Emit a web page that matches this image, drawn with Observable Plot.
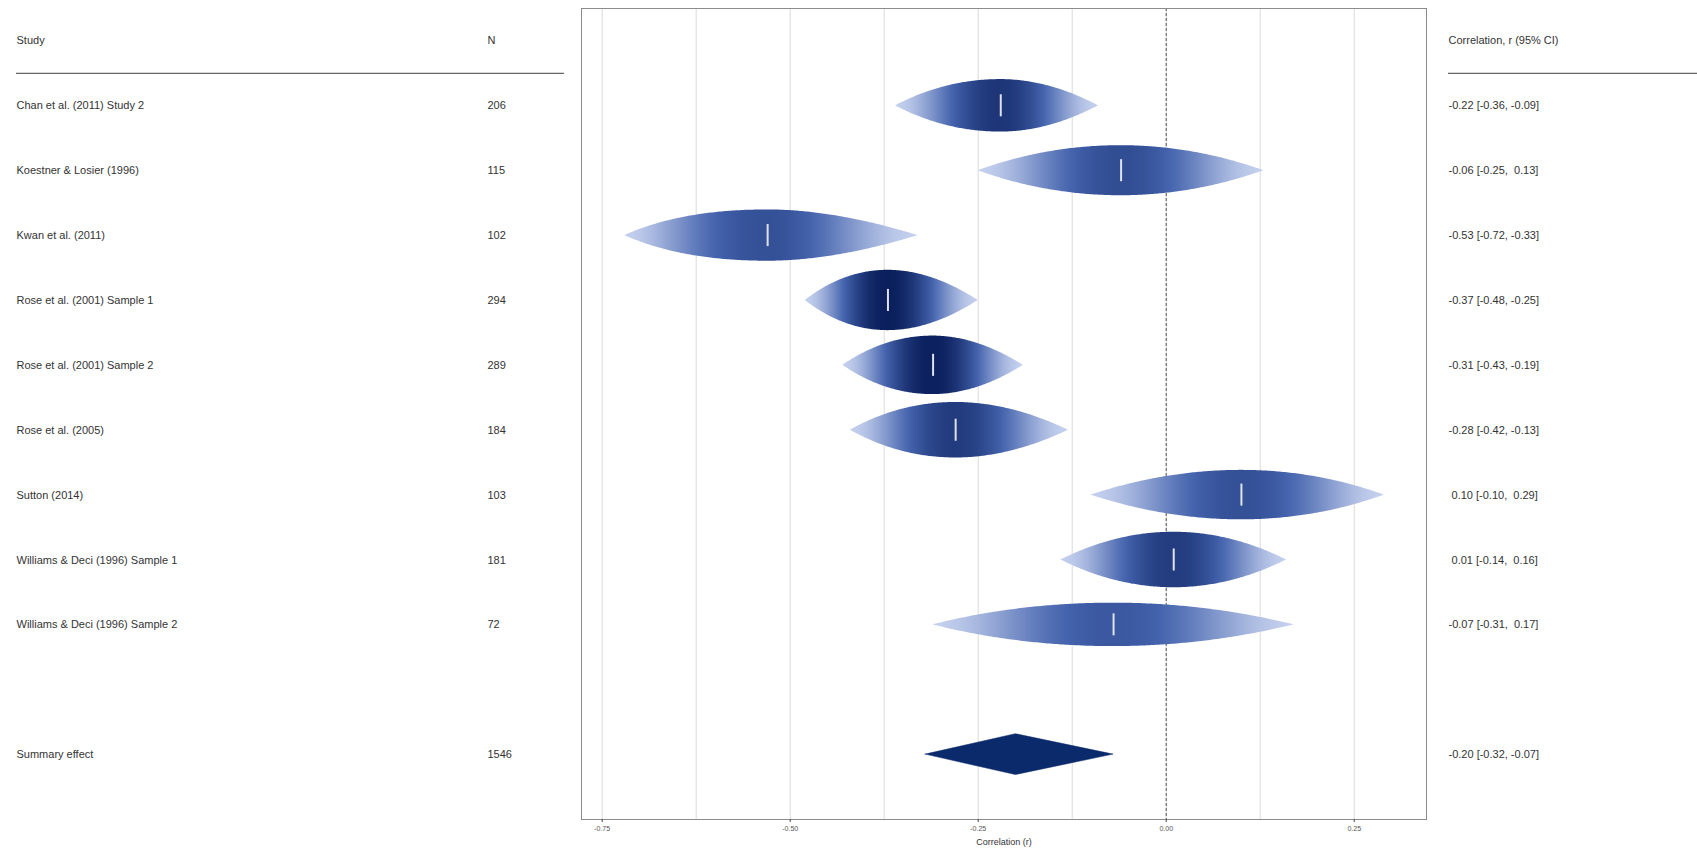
<!DOCTYPE html>
<html>
<head>
<meta charset="utf-8">
<script src="https://cdn.jsdelivr.net/npm/d3@7"></script>
<script src="https://cdn.jsdelivr.net/npm/@observablehq/plot@0.6"></script>
<style>
  html, body { margin: 0; padding: 0; background: #fff; }
  #chart { position: relative; width: 1697px; height: 856px; overflow: hidden; background: #fff; }
  #chart svg { position: absolute; top: 0; max-width: none; }
</style>
</head>
<body>
<div id="chart"></div>
<script>
// ---------- data ----------
const studies = [
  "Chan et al. (2011) Study 2",
  "Koestner & Losier (1996)",
  "Kwan et al. (2011)",
  "Rose et al. (2001) Sample 1",
  "Rose et al. (2001) Sample 2",
  "Rose et al. (2005)",
  "Sutton (2014)",
  "Williams & Deci (1996) Sample 1",
  "Williams & Deci (1996) Sample 2"
];
const sampleN   = [206, 115, 102, 294, 289, 184, 103, 181, 72];
const estimate  = [-0.22, -0.06, -0.53, -0.37, -0.31, -0.28, 0.10, 0.01, -0.07];
const ciLower   = [-0.36, -0.25, -0.72, -0.48, -0.43, -0.42, -0.10, -0.14, -0.31];
const ciUpper   = [-0.09,  0.13, -0.33, -0.25, -0.19, -0.13,  0.29,  0.16,  0.17];
// relative weight of each study (drop size, largest = 1)
const relWeight = [0.87, 0.83, 0.85, 1.00, 0.97, 0.92, 0.82, 0.92, 0.72];

const summaryLabel = "Summary effect";
const summaryN = 1546;
const summaryEst = -0.20, summaryLower = -0.32, summaryUpper = -0.07;

const headerStudy = "Study";
const headerN = "N";
const headerCI = "Correlation, r (95% CI)";
const xLabel = "Correlation (r)";
const xTicks = [-0.75, -0.5, -0.25, 0, 0.25];
const gridTicks = [-0.75, -0.625, -0.5, -0.375, -0.25, -0.125, 0, 0.125, 0.25];

// ---------- derived tables ----------
const fmt = v => (v < 0 ? "-" : "\u00a0") + Math.abs(v).toFixed(2);
const rows = studies.map((s, i) => ({
  row: i + 1, study: s, n: String(sampleN[i]),
  est: estimate[i], lo: ciLower[i], hi: ciUpper[i],
  ci: `${fmt(estimate[i])} [${fmt(ciLower[i])}, ${fmt(ciUpper[i])}]`
}));
const summaryRow = 11;
const allRows = [...rows, {
  row: summaryRow, study: summaryLabel, n: String(summaryN),
  ci: `${fmt(summaryEst)} [${fmt(summaryLower)}, ${fmt(summaryUpper)}]`
}];

// raindrop geometry: scaled log-likelihood (Fisher z space), zero at the CI bounds
const maxHalf = 0.465;           // half height of the largest drop, in row units
const maxN = d3.max(sampleN);
const shade = d3.scaleLinear().domain([0, 0.55, 1]).range(["#c3cfed", "#4463ad", "#0a1f5c"]).clamp(true);
function shapeFn(r) {
  const zE = Math.atanh(r.est), zL = Math.atanh(r.lo), zU = Math.atanh(r.hi);
  return x => {
    const z = Math.atanh(x);
    const d = z < zE ? (zE - z) / (zE - zL) : (z - zE) / (zU - zE);
    return Math.max(0, 1 - d * d);
  };
}
const dropOutlines = rows.map((r, i) => {
  const shape = shapeFn(r);
  const half = relWeight[i] * maxHalf;
  const n = 160;
  const xs = d3.range(n + 1).map(k => r.lo + (r.hi - r.lo) * k / n);
  xs.push(r.est);
  xs.sort((a, b) => a - b);
  return xs.map(x => ({x, y1: r.row - half * shape(x), y2: r.row + half * shape(x)}));
});
const dropStops = rows.map((r, i) => {
  const shape = shapeFn(r);
  const dark = 0.5 + 0.5 * sampleN[i] / maxN;
  const m = 40;
  return d3.range(m + 1).map(k => {
    const x = r.lo + (r.hi - r.lo) * k / m;
    const s = shape(x);
    return {offset: k / m, color: shade(s * s * dark)};
  });
});
const diamondHalf = 0.315;
const diamond = [
  {x: summaryLower, y1: summaryRow, y2: summaryRow},
  {x: summaryEst, y1: summaryRow - diamondHalf, y2: summaryRow + diamondHalf},
  {x: summaryUpper, y1: summaryRow, y2: summaryRow}
];

// ---------- layout ----------
const H = 856, mTop = 8, mBottom = 37;
const yScale = {domain: [12, -0.5], axis: null};
const font = "'Liberation Sans', Arial, sans-serif";
const textColor = "#333";
const baseStyle = {fontFamily: font, background: "white", color: textColor, overflow: "visible"};

// left table
const left = Plot.plot({
  width: 582, height: H, marginTop: mTop, marginBottom: mBottom, marginLeft: 16, marginRight: 18,
  y: yScale, style: baseStyle,
  marks: [
    Plot.text([headerStudy], {frameAnchor: "left", y: () => 0, textAnchor: "start", fontSize: 11, fill: textColor}),
    Plot.text([headerN], {frameAnchor: "left", dx: 471, y: () => 0, textAnchor: "start", fontSize: 11, fill: textColor}),
    Plot.ruleY([0.5], {stroke: "#666", strokeWidth: 1.2}),
    Plot.text(allRows, {frameAnchor: "left", y: "row", text: "study", textAnchor: "start", fontSize: 11, fill: textColor}),
    Plot.text(allRows, {frameAnchor: "left", dx: 471, y: "row", text: "n", textAnchor: "start", fontSize: 11, fill: textColor})
  ]
});
left.style.left = "0px";

// gradient definitions (horizontal shading of each drop by its likelihood)
const gradientDefs = () => {
  const defs = d3.create("svg:defs");
  dropStops.forEach((stops, i) => {
    const g = defs.append("linearGradient").attr("id", `drop-grad-${i}`)
      .attr("x1", 0).attr("x2", 1).attr("y1", 0).attr("y2", 0);
    stops.forEach(s => g.append("stop").attr("offset", s.offset).attr("stop-color", s.color));
  });
  return defs.node();
};

// centre forest panel
const centre = Plot.plot({
  width: 865, height: H, marginTop: mTop, marginBottom: mBottom, marginLeft: 10, marginRight: 10,
  x: {domain: [-0.7775, 0.3461], axis: null},
  y: yScale,
  style: baseStyle,
  marks: [
    gradientDefs,
    Plot.ruleX(gridTicks, {stroke: "#dadada", strokeWidth: 1}),
    Plot.ruleX([0], {stroke: "#555", strokeDasharray: "3,2", strokeWidth: 1}),
    ...dropOutlines.map((pts, i) =>
      Plot.areaY(pts, {x: "x", y1: "y1", y2: "y2", fill: `url(#drop-grad-${i})`, curve: "linear"})),
    Plot.ruleX(rows, {x: "est", y1: d => d.row - 0.17, y2: d => d.row + 0.17, stroke: "#dde2ee", strokeWidth: 2}),
    Plot.areaY(diamond, {x: "x", y1: "y1", y2: "y2", fill: "#0b2a6b", stroke: "#0b2a6b", strokeWidth: 0.5}),
    Plot.frame({stroke: "#8c8c8c", strokeWidth: 1}),
    Plot.axisX(xTicks, {tickFormat: d => d.toFixed(2), fontSize: 7, tickSize: 3, tickPadding: 4, stroke: "#444", fill: "#555", label: null}),
    Plot.text([xLabel], {frameAnchor: "bottom", dy: 25, fontSize: 9, fill: textColor})
  ]
});
centre.style.left = "571px";

// right table
const right = Plot.plot({
  width: 271, height: H, marginTop: mTop, marginBottom: mBottom, marginLeft: 22, marginRight: 0,
  y: yScale, style: baseStyle,
  marks: [
    Plot.text([headerCI], {frameAnchor: "left", y: () => 0, textAnchor: "start", fontSize: 11, fill: textColor}),
    Plot.ruleY([0.5], {stroke: "#666", strokeWidth: 1.2}),
    Plot.text(allRows, {frameAnchor: "left", y: "row", text: "ci", textAnchor: "start", fontSize: 11, fill: textColor})
  ]
});
right.style.left = "1426px";

const chart = document.getElementById("chart");
chart.append(left, right, centre);
</script>
</body>
</html>
